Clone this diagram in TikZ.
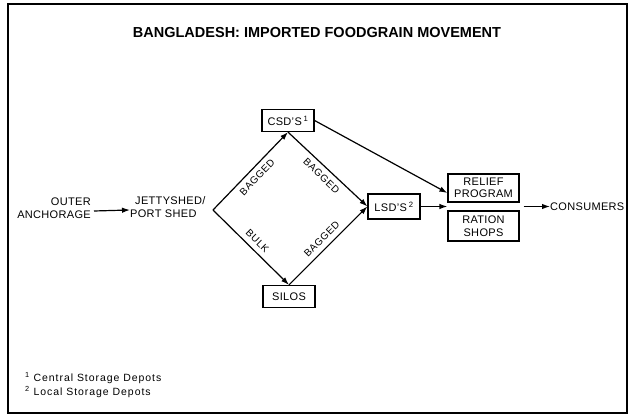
\documentclass[tikz,border=0pt]{standalone}
\usepackage{fontspec}
\setmainfont{Liberation Sans}
\usetikzlibrary{arrows.meta}
\begin{document}
\begin{tikzpicture}[x=1pt,y=-1pt,
  flow/.style={line width=1.2pt,-{Latex[length=8pt,width=5.5pt]}},
  plain/.style={font=\fontsize{11}{12.5}\selectfont\addfontfeature{LetterSpace=3}, inner sep=0pt},
  depot/.style={draw,line width=1.2pt,minimum width=52pt,minimum height=22pt,inner sep=2pt,
    font=\fontsize{11}{12.5}\selectfont\addfontfeature{LetterSpace=3}},
  outlet/.style={draw,line width=1.2pt,minimum width=71pt,align=center,inner sep=2pt,
    font=\fontsize{11}{12.5}\selectfont\addfontfeature{LetterSpace=3}},
  tag/.style={font=\fontsize{10}{11}\selectfont\addfontfeature{LetterSpace=5},inner sep=5pt,midway,sloped},
  note/.style={font=\fontsize{10.5}{12}\selectfont\addfontfeature{LetterSpace=9},inner sep=0pt,anchor=west}]
\useasboundingbox (0,0) rectangle (630,419);
% outer frame
\draw[line width=1.6pt] (8,4) rectangle (627,413);

% heading
\node[font=\bfseries\fontsize{14.5}{16}\selectfont] (title) at (317,33) {BANGLADESH: IMPORTED FOODGRAIN MOVEMENT};

% landing points
\node[plain,align=right,anchor=east] (outer) at (91,208) {OUTER\\ANCHORAGE};
\node[plain,align=left,anchor=west] (jetty) at (130,207) {\hspace*{5pt}JETTYSHED/\\PORT SHED};
\draw[flow] ([xshift=3pt,yshift=-3pt]outer.east) -- ([yshift=-3pt]jetty.west);

% storage
\coordinate (split) at (213,210);
\node[depot] (csd) at (288,120.5) {CSD'S\,\textsuperscript{1}};
\node[depot] (silos) at (289,296.5) {SILOS};
\node[depot,minimum height=25pt] (lsd) at (394,206.5) {LSD'S\,\textsuperscript{2}};

\draw[flow] (split) -- node[tag,below] {BAGGED} (csd.south);
\draw[flow] (split) -- node[tag,above] {BULK} (silos.north);
\draw[flow] (csd.south) -- node[tag,below] {BAGGED} (lsd.west);
\draw[flow] (silos.north) -- node[tag,above] {BAGGED} (lsd.west);

% distribution
\node[outlet,minimum height=28pt] (relief) at (483.5,188) {RELIEF\\PROGRAM};
\node[outlet,minimum height=30pt] (ration) at (483.5,226) {RATION\\SHOPS};
\node[plain,anchor=west] (consumers) at (550,206.5) {CONSUMERS};

\draw[flow] (lsd.east) -- (lsd.east -| relief.west);
\draw[flow] (csd.east) -- ([yshift=-5pt]relief.west);
\draw[flow,shorten <=4pt] (relief.east |- consumers.west) -- (consumers.west);

% footnotes
\node[note] (n1) at (25,378) {\textsuperscript{1} Central Storage Depots};
\node[note] (n2) at (25,392) {\textsuperscript{2} Local Storage Depots};
\end{tikzpicture}
\end{document}
